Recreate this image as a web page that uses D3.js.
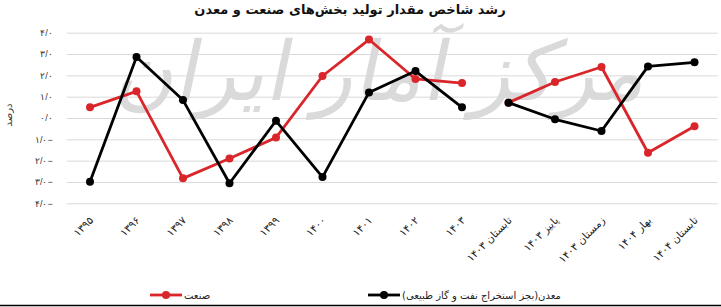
<!DOCTYPE html>
<html>
<head>
<meta charset="utf-8">
<script src="https://cdn.jsdelivr.net/npm/d3@7"></script>
<style>
  body { margin: 0; background: #fff; }
  svg { display: block; font-family: "DejaVu Sans", sans-serif; }
</style>
</head>
<body>
<div id="vis-container"></div>
<script>
// categories (years, then seasons)
var categories = ["۱۳۹۵", "۱۳۹۶", "۱۳۹۷", "۱۳۹۸", "۱۳۹۹", "۱۴۰۰", "۱۴۰۱", "۱۴۰۲", "۱۴۰۳",
	"تابستان ۱۴۰۳", "پاییز ۱۴۰۳", "زمستان ۱۴۰۳", "بهار ۱۴۰۴", "تابستان ۱۴۰۴"];

// series values (percent)
var sanat = [0.5, 1.25, -2.83, -1.9, -0.92, 1.97, 3.68, 1.83, 1.64, 0.72, 1.69, 2.39, -1.63, -0.39];
var madan = [-2.99, 2.86, 0.84, -3.06, -0.13, -2.77, 1.2, 2.2, 0.5, 0.72, -0.06, -0.61, 2.42, 2.61];

// y tick values and labels
var yTicks = [4, 3, 2, 1, 0, -1, -2, -3, -4];
var yTickLabels = ["۴/۰", "۳/۰", "۲/۰", "۱/۰", "۰/۰", "۱/۰−", "۲/۰−", "۳/۰−", "۴/۰−"];

// line is broken between the yearly and the seasonal part
var breakIndex = 9;

var width = 721;
var height = 307;
var plotLeft = 66.75, plotRight = 717.75, plotTop = 32.7, plotBottom = 203.3;

var svg = d3.select("#vis-container")
	.append("svg")
	.attr("width", width)
	.attr("height", height);

var xscale = d3.scaleBand().domain(d3.range(categories.length)).range([plotLeft, plotRight]);
var yscale = d3.scaleLinear().domain([-4, 4]).range([plotBottom, plotTop]);
var cx = function(i) { return xscale(i) + xscale.bandwidth() / 2; };

// watermark
svg.append("text")
	.attr("x", 400)
	.attr("y", 100)
	.attr("text-anchor", "middle")
	.attr("direction", "rtl")
	.attr("transform", "skewX(-12)")
	.style("font-size", "82px")
	.style("fill", "#dadada")
	.text("مرکز آمار ایران");

// gridlines
var yaxis = d3.axisLeft(yscale)
	.tickValues(yTicks)
	.tickSize(-(plotRight - plotLeft))
	.tickPadding(14)
	.tickFormat(function(d, i) { return yTickLabels[i]; });

var yaxisg = svg.append("g")
	.attr("transform", "translate(" + plotLeft + ",0)")
	.call(yaxis);
yaxisg.select(".domain").remove();
yaxisg.selectAll(".tick line").attr("stroke", "#d9d9d9").attr("stroke-width", 1);
yaxisg.selectAll(".tick text")
	.attr("direction", "ltr")
	.style("font-size", "9px")
	.style("fill", "#333");

// y title
svg.append("text")
	.attr("transform", "translate(12,115) rotate(-90)")
	.attr("text-anchor", "middle")
	.style("font-size", "10px")
	.style("fill", "#333")
	.text("درصد");

// x labels
svg.append("g")
	.selectAll("text")
	.data(categories)
	.enter()
	.append("text")
	.attr("transform", function(d, i) { return "translate(" + (cx(i) + 4) + ",221) rotate(-45)"; })
	.attr("text-anchor", "start")
	.attr("direction", "rtl")
	.style("font-size", "10.5px")
	.style("fill", "#222")
	.text(function(d) { return d; });

// title
svg.append("text")
	.attr("x", 350)
	.attr("y", 14)
	.attr("text-anchor", "middle")
	.attr("direction", "rtl")
	.style("font-size", "13px")
	.style("font-weight", "bold")
	.style("fill", "#111")
	.text("رشد شاخص مقدار تولید بخش‌های صنعت و معدن");

var line = d3.line()
	.x(function(d) { return cx(d.i); })
	.y(function(d) { return yscale(d.v); });

function drawSeries(values, color) {
	var pts = values.map(function(v, i) { return { i: i, v: v }; });
	var segs = [pts.slice(0, breakIndex), pts.slice(breakIndex)];
	var g = svg.append("g");
	g.selectAll("path")
		.data(segs)
		.enter()
		.append("path")
		.attr("d", line)
		.attr("fill", "none")
		.attr("stroke", color)
		.attr("stroke-width", 2.8)
		.attr("stroke-linejoin", "round");
	g.selectAll("circle")
		.data(pts)
		.enter()
		.append("circle")
		.attr("cx", function(d) { return cx(d.i); })
		.attr("cy", function(d) { return yscale(d.v); })
		.attr("r", 4)
		.attr("fill", color);
}

drawSeries(sanat, "#d9262a");
drawSeries(madan, "#000000");

// legend
var legend = [
	{ name: "صنعت", color: "#d9262a", x: 150 },
	{ name: "معدن(بجز استخراج نفت و گاز طبیعی)", color: "#000000", x: 368 }
];
var lg = svg.append("g").selectAll("g")
	.data(legend)
	.enter()
	.append("g")
	.attr("transform", function(d) { return "translate(" + d.x + ",295)"; });
lg.append("line")
	.attr("x1", 0).attr("x2", 32)
	.attr("stroke", function(d) { return d.color; })
	.attr("stroke-width", 2.8);
lg.append("circle")
	.attr("cx", 16).attr("r", 4)
	.attr("fill", function(d) { return d.color; });
lg.append("text")
	.attr("x", 34)
	.attr("y", 4)
	.attr("direction", "rtl")
	.attr("text-anchor", "end")
	.style("font-size", "10px")
	.style("fill", "#222")
	.text(function(d) { return d.name; });

// frame line at bottom
svg.append("line")
	.attr("x1", 0).attr("x2", width)
	.attr("y1", 305.5).attr("y2", 305.5)
	.attr("stroke", "#000")
	.attr("stroke-width", 1.5);
</script>
</body>
</html>
